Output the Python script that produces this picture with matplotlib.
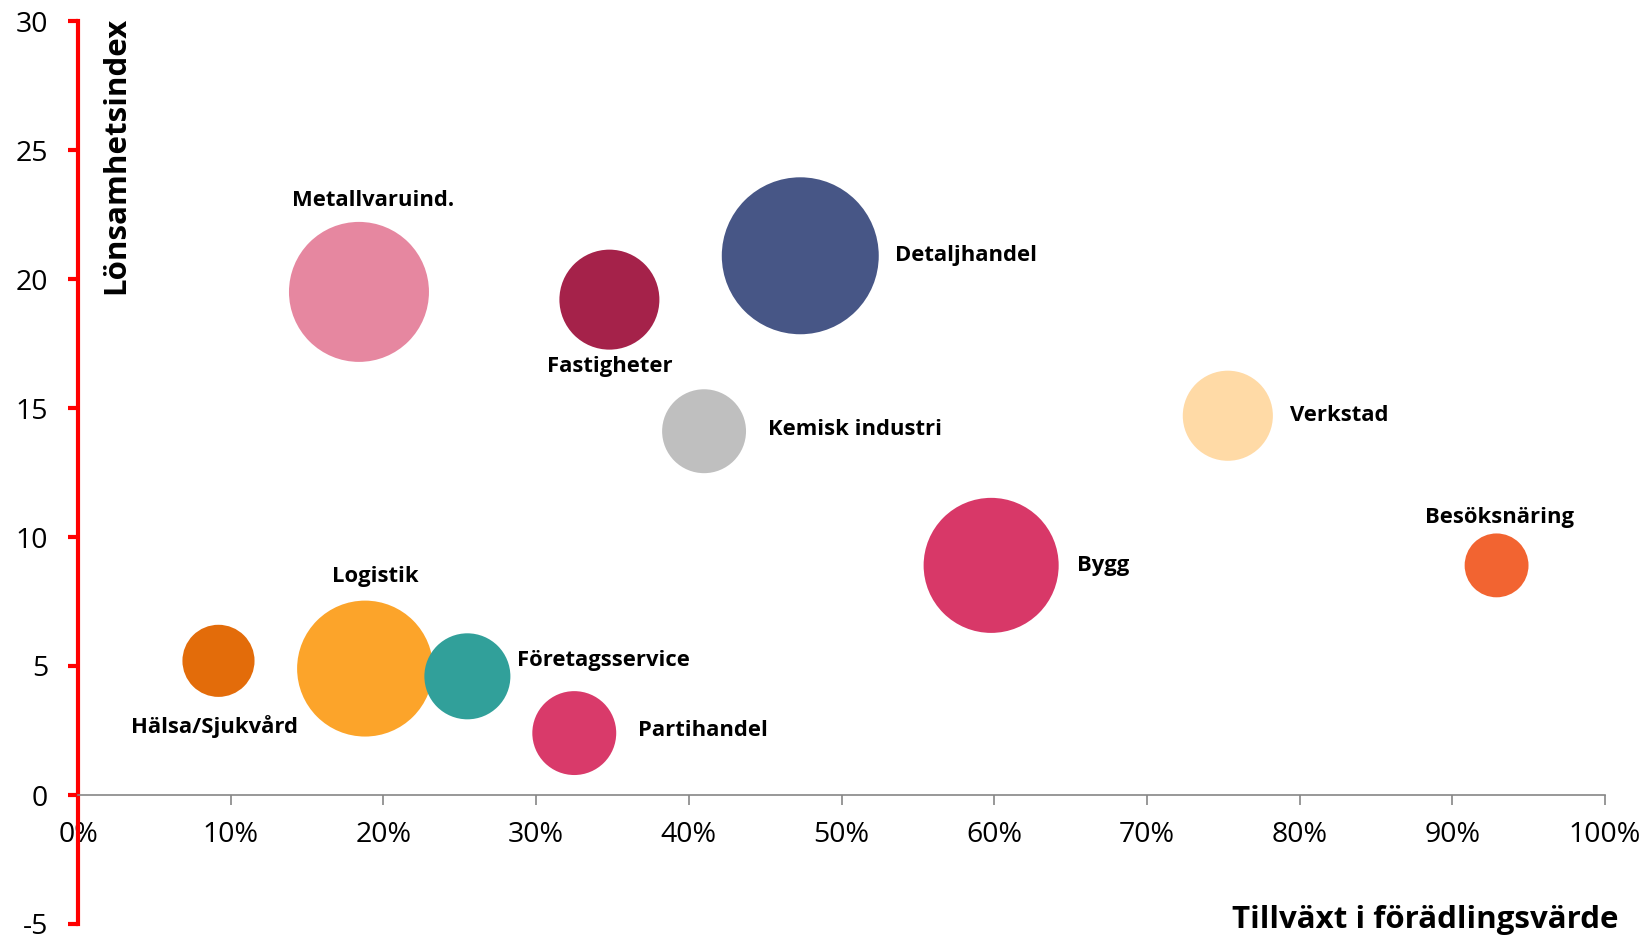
import matplotlib
matplotlib.use('Agg')
import matplotlib.pyplot as plt
from matplotlib.ticker import FuncFormatter, MultipleLocator

plt.rcParams['font.family'] = ['Open Sans', 'DejaVu Sans']

# Data
branscher = ['Hälsa/Sjukvård', 'Logistik', 'Företagsservice', 'Partihandel',
             'Metallvaruind.', 'Fastigheter', 'Detaljhandel', 'Kemisk industri',
             'Verkstad', 'Bygg', 'Besöksnäring']
tillvaxt = [9.2, 18.8, 25.5, 32.5, 18.4, 34.8, 47.3, 41.0, 75.3, 59.8, 92.9]   # %
lonsamhet = [5.2, 4.9, 4.6, 2.4, 19.5, 19.2, 20.9, 14.1, 14.7, 8.9, 8.9]
bubble_size = [13.0, 46.2, 18.5, 17.6, 49.0, 25.0, 61.6, 17.6, 20.3, 45.6, 10.2]

colors = ['#E36C0A', '#FCA42A', '#31A09A', '#D93A6A', '#E687A0', '#A5224A',
          '#475686', '#BFBFBF', '#FFDAA6', '#D83868', '#F26431']

# label placement: offset from bubble centre in pixels (dx, dy up), alignment
label_pos = [(-4, -66, 'center'), (10, 92, 'center'), (50, 16, 'left'),
             (64, 3, 'left'), (14, 91, 'center'), (0, -67, 'center'),
             (95, 0, 'left'), (64, 2, 'left'), (62, 0, 'left'),
             (86, 0, 'left'), (3, 48, 'center')]

fig = plt.figure(figsize=(16.47, 9.38), dpi=100)
ax = fig.add_axes([78 / 1647, 1 - 924 / 938, (1605 - 78) / 1647, (924 - 21) / 938])

size_scale = 100 * (2 * 0.72) ** 2
ax.scatter(tillvaxt, lonsamhet, s=[b * size_scale for b in bubble_size],
           c=colors, edgecolors='none', zorder=3, clip_on=False)

for name, x, y, (dx, dy, ha) in zip(branscher, tillvaxt, lonsamhet, label_pos):
    ax.annotate(name, (x, y), xytext=(dx, dy), textcoords='offset pixels',
                ha=ha, va='center', fontsize=15.8, fontweight='bold', zorder=4)

ax.set_xlim(0, 100)
ax.set_ylim(-5, 30)
ax.xaxis.set_major_locator(MultipleLocator(10))
ax.yaxis.set_major_locator(MultipleLocator(5))
ax.xaxis.set_major_formatter(FuncFormatter(lambda v, p: f"{v:.0f}%"))
ax.yaxis.set_major_formatter(FuncFormatter(lambda v, p: f"{v:.0f}"))

ax.spines['top'].set_visible(False)
ax.spines['right'].set_visible(False)
ax.spines['bottom'].set_position(('data', 0))
ax.spines['bottom'].set_color('#868686')
ax.spines['bottom'].set_linewidth(1.2)
ax.spines['left'].set_color('#FF0000')
ax.spines['left'].set_linewidth(3.0)

ax.tick_params(axis='x', direction='out', length=7, width=1.2, color='#868686',
               labelsize=20.5, pad=12)
ax.tick_params(axis='y', direction='out', length=7.5, width=3.0, color='#FF0000',
               labelsize=20.5, pad=14)

fig.text(116 / 1647, 1 - 17 / 938, 'Lönsamhetsindex', rotation=90,
         ha='center', va='top', fontsize=22.5, fontweight='bold')
fig.text(1618 / 1647, 1 - 928 / 938, 'Tillväxt i förädlingsvärde',
         ha='right', va='baseline', fontsize=22.5, fontweight='bold')

fig.savefig('out.png', dpi=100)
